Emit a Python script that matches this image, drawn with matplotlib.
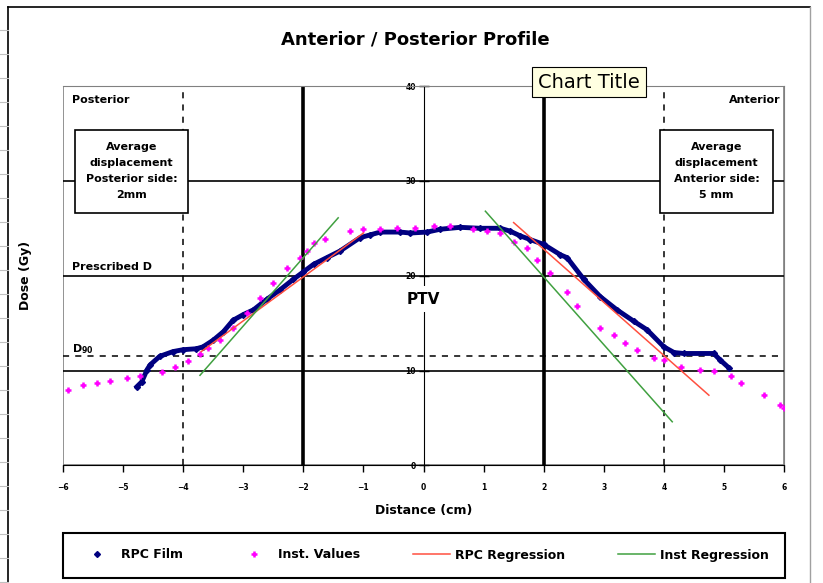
import matplotlib
matplotlib.use("Agg")
import matplotlib.pyplot as plt
from matplotlib.patches import Rectangle
from matplotlib.lines import Line2D

# RPC film profile (cm, Gy)
film_x = [-4.77, -4.69, -4.6, -4.55, -4.39, -4.17, -4.0, -3.78, -3.67, -3.5, -3.33, -3.17,
          -3.0, -2.83, -2.61, -2.39, -2.17, -2.0, -1.83, -1.61, -1.39, -1.06, -0.89, -0.72,
          -0.39, -0.22, 0.06, 0.28, 0.61, 0.94, 1.28, 1.44, 1.61, 1.78, 2.0, 2.28, 2.39,
          2.67, 2.94, 3.22, 3.5, 3.72, 4.0, 4.17, 4.33, 4.83, 4.94, 5.08]
film_y = [8.3, 8.8, 10.1, 10.6, 11.5, 12.0, 12.2, 12.3, 12.5, 13.2, 14.1, 15.3,
          15.9, 16.4, 17.5, 18.5, 19.6, 20.4, 21.2, 21.9, 22.6, 24.0, 24.3, 24.6,
          24.6, 24.5, 24.6, 24.9, 25.1, 25.0, 25.0, 24.7, 24.2, 23.8, 23.3, 22.2, 21.9,
          19.6, 17.8, 16.4, 15.2, 14.3, 12.5, 11.9, 11.8, 11.8, 11.1, 10.3]

# institution values
inst_x = [-5.92, -5.67, -5.44, -5.22, -4.94, -4.72, -4.36, -4.14, -3.92, -3.72, -3.58, -3.39,
          -3.17, -2.94, -2.72, -2.5, -2.28, -2.06, -1.94, -1.83, -1.64, -1.22, -1.0, -0.72,
          -0.44, -0.14, 0.17, 0.44, 0.83, 1.06, 1.28, 1.5, 1.72, 1.89, 2.11, 2.39, 2.56,
          2.94, 3.17, 3.36, 3.56, 3.83, 4.0, 4.28, 4.61, 4.83, 5.11, 5.28, 5.67, 5.94, 6.0]
inst_y = [8.0, 8.5, 8.7, 8.9, 9.2, 9.4, 9.8, 10.4, 11.0, 11.7, 12.4, 13.2,
          14.5, 16.1, 17.7, 19.2, 20.8, 21.9, 22.6, 23.4, 23.9, 24.75, 24.9, 24.9,
          25.0, 25.0, 25.2, 25.2, 24.9, 24.7, 24.5, 23.6, 22.9, 21.7, 20.3, 18.3, 16.8,
          14.5, 13.8, 12.9, 12.2, 11.3, 11.1, 10.4, 10.1, 9.9, 9.4, 8.7, 7.4, 6.4, 6.1]

# regression lines (end points)
rpc_left_x, rpc_left_y = [-3.7, -1.0], [12.0, 24.5]
rpc_right_x, rpc_right_y = [1.5, 4.75], [25.6, 7.4]
inst_left_x, inst_left_y = [-3.72, -1.42], [9.5, 26.1]
inst_right_x, inst_right_y = [1.03, 4.14], [26.8, 4.6]

d90 = 11.55
prescribed = 20

W, H = 823, 583
fig = plt.figure(figsize=(W / 100, H / 100), dpi=100)
plt.rcParams['font.family'] = 'DejaVu Sans'


def fx(px):
    return px / W


def fy(py):
    return 1 - py / H


# excel-ish surroundings
fig.add_artist(Line2D([fx(8), fx(8)], [0, fy(7)], color='black', lw=1.2))
fig.add_artist(Line2D([fx(8), fx(810)], [fy(7), fy(7)], color='black', lw=1.2))
fig.add_artist(Line2D([fx(810), fx(810)], [0, fy(7)], color='#a0a0a0', lw=1.0))
for py in range(30, 583, 24):
    fig.add_artist(Line2D([0, fx(8)], [fy(py), fy(py)], color='#c0c0c0', lw=0.8))

ax_w = fx(784) - fx(63)
ax = fig.add_axes([fx(63), fy(465.4), ax_w, (465.4 - 86) / H])
ax.set_xlim(-6, 6)
ax.set_ylim(0, 40)

ax.spines['left'].set_position(('data', 0))
ax.spines['left'].set_color('black')
ax.spines['left'].set_zorder(1.5)
ax.spines['top'].set_color('#808080')
ax.spines['right'].set_color('#808080')
ax.add_patch(Rectangle((0, 0), 1, 1, transform=ax.transAxes, fill=False,
                       edgecolor='#808080', lw=1.2, zorder=0.5))

ax.set_xticks(range(-6, 7))
ax.set_yticks([0, 10, 20, 30, 40])
ax.tick_params(axis='x', direction='out', length=5, width=1, labelsize=5.5, pad=8)
ax.tick_params(axis='y', direction='inout', length=7, width=1, labelsize=5.5, pad=2)
for lab in ax.get_xticklabels() + ax.get_yticklabels():
    lab.set_fontweight('bold')

# grid / reference lines
for g in [10, 20, 30]:
    ax.axhline(g, color='black', lw=1.2, zorder=1)
ax.axhline(d90, color='black', lw=1.1, ls=(0, (4, 4)), zorder=1)
for v in [-4, 4]:
    ax.axvline(v, color='black', lw=1.1, ls=(0, (4, 4)), zorder=1)
for v in [-2, 2]:
    ax.axvline(v, color='black', lw=2.6, zorder=1)

# data
ax.plot(film_x, film_y, color='#000080', lw=3.5, zorder=3, solid_joinstyle='round')
ax.plot(film_x, film_y, 'D', color='#000080', ms=3, ls='none', zorder=3, label='RPC Film')
ax.plot(inst_x, inst_y, '+', color='#ff00ff', ms=5, mew=1.8, ls='none', zorder=4,
        label='Inst. Values')
ax.plot(rpc_left_x, rpc_left_y, color='#ff5040', lw=1.1, zorder=5, label='RPC Regression')
ax.plot(rpc_right_x, rpc_right_y, color='#ff5040', lw=1.1, zorder=5)
ax.plot(inst_left_x, inst_left_y, color='#40a040', lw=1.1, zorder=5, label='Inst Regression')
ax.plot(inst_right_x, inst_right_y, color='#40a040', lw=1.1, zorder=5)

# annotations
small = dict(fontsize=8, fontweight='bold')
ax.text(-5.855, 38.5, 'Posterior', ha='left', va='center', **small)
ax.text(5.94, 38.5, 'Anterior', ha='right', va='center', **small)
ax.text(-5.855, 20.9, 'Prescribed D', ha='left', va='center', **small)
ax.text(-5.855, 12.3, r'D$_{\mathbf{90}}$', ha='left', va='center', **small)
ax.text(0, 17.5, 'PTV', ha='center', va='center', fontsize=11, fontweight='bold',
        bbox=dict(facecolor='white', edgecolor='none', pad=4), zorder=6)

for x0, x1, txt in [(-5.8, -3.92, 'Average\ndisplacement\nPosterior side:\n2mm'),
                    (3.94, 5.81, 'Average\ndisplacement\nAnterior side:\n5 mm')]:
    ax.add_patch(Rectangle((x0, 26.65), x1 - x0, 35.4 - 26.65, facecolor='white',
                           edgecolor='black', lw=1.2, zorder=6))
    ax.text((x0 + x1) / 2, (26.65 + 35.4) / 2, txt, ha='center', va='center',
            linespacing=1.75, zorder=7, **small)

ax.set_xlabel('Distance (cm)', fontsize=9, fontweight='bold', labelpad=8)
ax.set_ylabel('Dose (Gy)', fontsize=9, fontweight='bold')
ax.yaxis.set_label_coords((fx(32) - fx(63)) / ax_w, 0.5)

fig.text(fx(415), fy(40), 'Anterior / Posterior Profile', ha='center', va='center',
         fontsize=13, fontweight='bold')

# legend
fig.add_artist(Rectangle((fx(63), fy(578)), fx(785) - fx(63), (578 - 533) / H,
                         transform=fig.transFigure, fill=False, edgecolor='black', lw=1.5))
handles, labels = ax.get_legend_handles_labels()
leg = fig.legend(handles, labels, loc='center', bbox_to_anchor=(fx(424), fy(555)),
                 ncol=4, frameon=False, fontsize=9, handlelength=3.0,
                 handletextpad=0.4, columnspacing=4.2)
for t in leg.get_texts():
    t.set_fontweight('bold')

# the excel tooltip
fig.text(fx(589), fy(82), 'Chart Title', ha='center', va='center', fontsize=14,
         bbox=dict(boxstyle='square,pad=0.3', facecolor='#ffffe1', edgecolor='black', lw=0.8),
         zorder=10)

fig.savefig('out.png', dpi=100)
